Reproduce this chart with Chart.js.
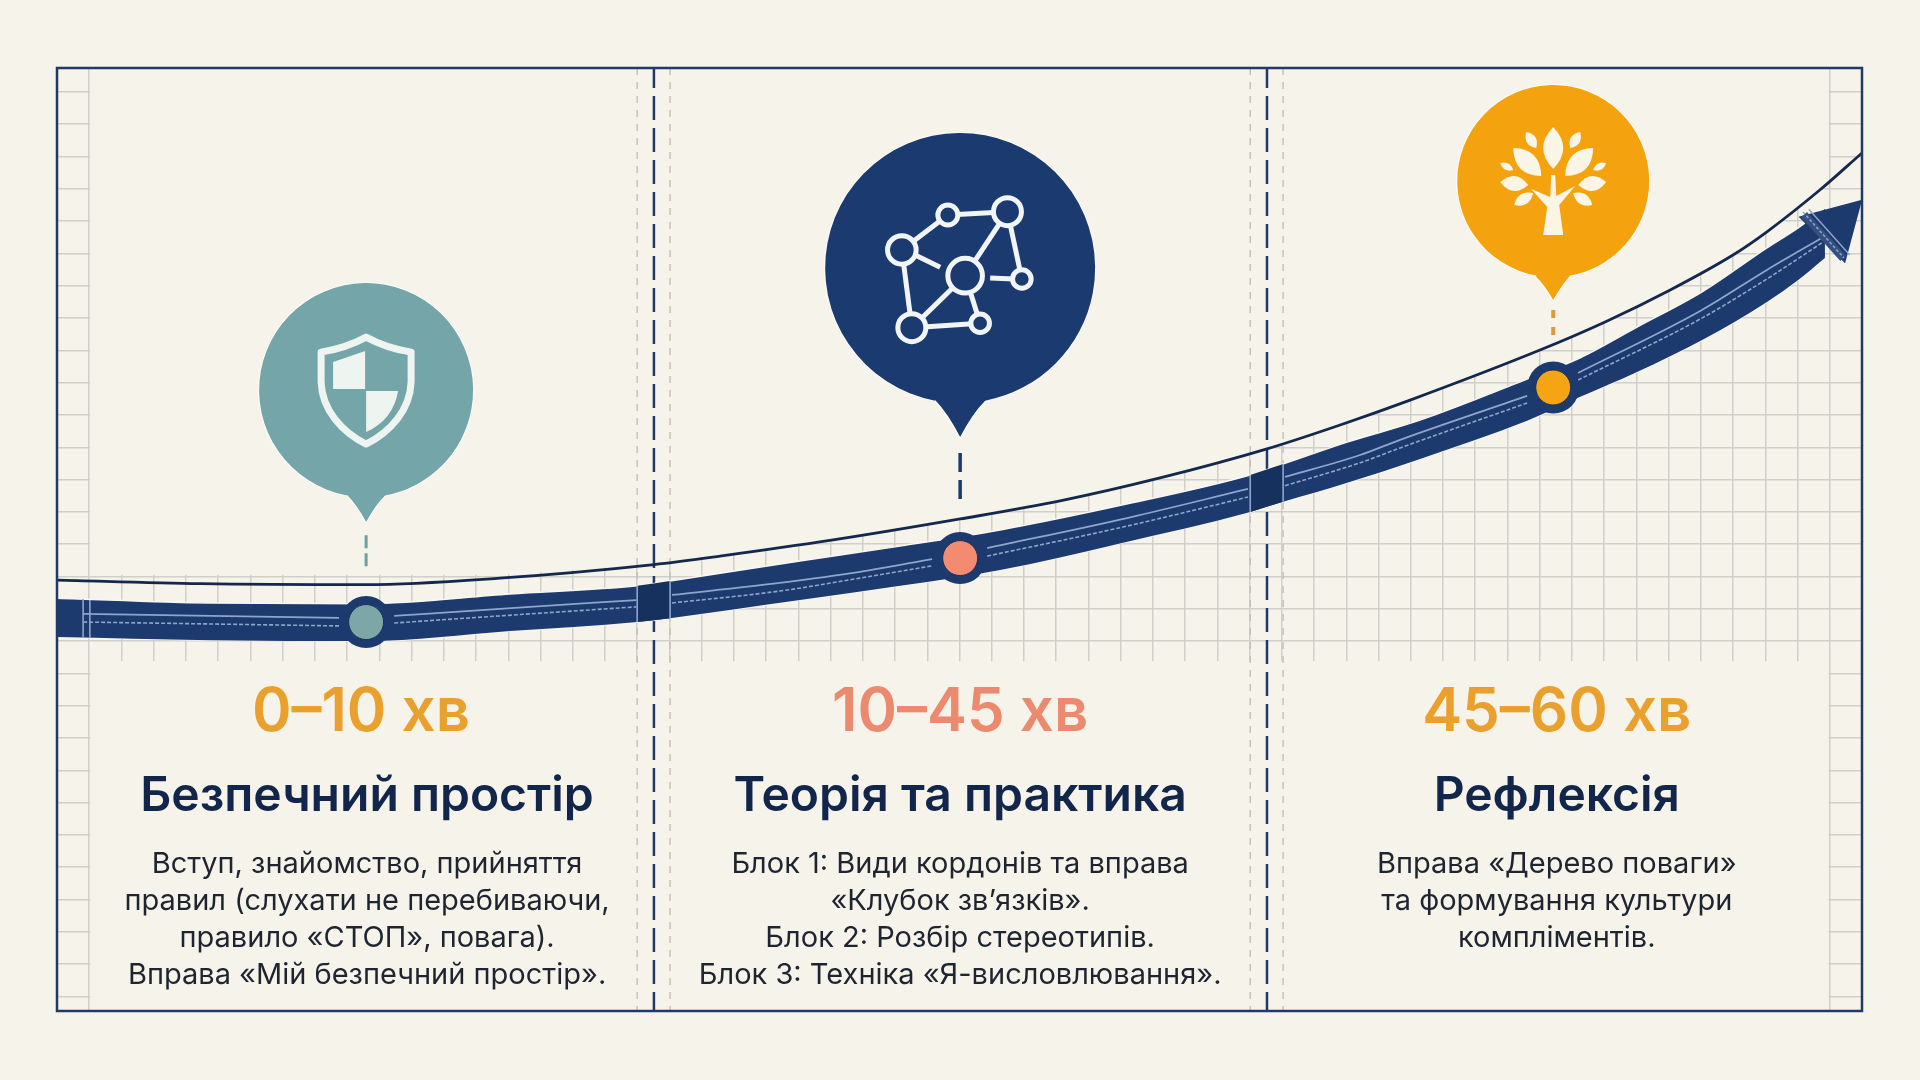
<!DOCTYPE html>
<html lang="uk">
<head>
<meta charset="utf-8">
<title>Таймлайн заняття</title>
<script src="https://cdn.jsdelivr.net/npm/chart.js"></script>
<style>
    html, body { margin: 0; padding: 0; background: #f6f3ea; }
    canvas { display: block; }
</style>
</head>
<body>
<canvas id="timeline" width="1920" height="1080"></canvas>
<script>
// Одиниці обох осей - клітинки міліметрівки
const phaseRanges = ['0–10 хв', '10–45 хв', '45–60 хв'];
const phaseTitles = ['Безпечний простір', 'Теорія та практика', 'Рефлексія'];
const phaseBodies = [
    ['Вступ, знайомство, прийняття', 'правил (слухати не перебиваючи,', 'правило «СТОП», повага).', 'Вправа «Мій безпечний простір».'],
    ['Блок 1: Види кордонів та вправа', '«Клубок зв’язків».', 'Блок 2: Розбір стереотипів.', 'Блок 3: Техніка «Я-висловлювання».'],
    ['Вправа «Дерево поваги»', 'та формування культури', 'компліментів.']
];
const rangeCenters = [8.43, 27.02, 45.53];
const textCenters = [8.62, 27.02, 45.53];

const bandX = [-1, 3.75, 8.59, 13.06, 17.0, 18.02, 22.05, 25.16, 28.26, 32.04, 36.02, 37.04, 39.03, 41.29, 44.61, 46.26, 48.02, 50.04, 52.05, 53.02, 53.85];
const bandTop = [12.33, 12.18, 12.16, 12.46, 12.71, 12.86, 13.48, 13.94, 14.44, 15.21, 16.14, 16.48, 17.16, 17.84, 19.11, 19.77, 20.72, 21.81, 23.17, 23.79, 24.41];
const bandBottom = [11.13, 11.03, 11.0, 11.31, 11.59, 11.71, 12.27, 12.71, 13.2, 14.04, 15.0, 15.31, 15.9, 16.64, 17.82, 18.56, 19.33, 20.32, 21.5, 22.18, 22.86];

const thinX = [-1, 3.44, 8.59, 12.74, 17.52, 19.57, 23.08, 27.02, 30.12, 33.22, 36.54, 38.81, 40.98, 45.01, 47.03, 49.05, 51.01, 52.05, 53.7, 55];
const thinY = [12.89, 12.78, 12.75, 12.95, 13.37, 13.63, 14.13, 14.78, 15.34, 16.05, 16.95, 17.69, 18.46, 20.01, 20.88, 21.87, 22.96, 23.67, 24.97, 26.11];

// null - розрив строчки біля маркерів і швів
const stitchX = [-0.19, 7.75, 8.59, 9.46, 12.74, 16.97, 17.5, 18.08, 21.43, 23.91, 26.15, 27.02, 27.86, 32.2, 35.95, 36.5, 37.1, 39.43, 40.67, 44.61, 45.42, 46.19, 49.98, 52.05, 53.79];
const stitchSolid = [11.84, 11.72, null, 11.78, 12.0, 12.27, null, 12.43, 12.8, 13.14, 13.54, null, 13.88, 14.81, 15.71, null, 16.08, 16.76, 17.23, 18.59, null, 19.3, 21.22, 22.49, 23.5];
const stitchDashed = [11.59, 11.47, null, 11.56, 11.78, 12.06, null, 12.18, 12.55, 12.95, 13.33, null, 13.63, 14.56, 15.46, null, 15.81, 16.52, 16.98, 18.37, null, 19.08, 20.97, 22.21, 23.35];

const seamX = [[17.0, 18.02], [36.02, 37.04]];
const seamTop = [[12.71, 12.86], [16.14, 16.48]];
const seamBottom = [[11.59, 11.71], [15.0, 15.31]];
const seamEdgeX = [-0.19, 0.02, 17.0, 18.02, 36.02, 37.04];
const seamEdgeTop = [12.3, 12.27, 12.71, 12.86, 16.14, 16.48];
const seamEdgeBottom = [11.11, 11.1, 11.59, 11.71, 15.0, 15.31];

const dividerX = [17.52, 36.54];
const guideX = [17.0, 18.02, 36.02, 37.04];

const markerX = [8.59, 27.02, 45.42];
const markerY = [11.59, 13.57, 18.85];
const stemTop = [14.28, 16.82, 21.25];
const stemBottom = [13.26, 15.4, 20.47];

const pinY = [18.77, 22.55, 25.24];
const pinTipY = [14.69, 17.32, 21.56];

const arrowX = [54.17];
const arrowY = [23.83];
const arrowStripX = [53.2, 54.42];
const arrowStripY = [24.2, 22.85];
const arrowStitchX = [[53.35, 54.62], [53.17, 54.44]];
const arrowStitchY = [[24.37, 22.95], [24.28, 22.86]];

const colors = {
    paper: '#f6f3ea',
    grid: '#d0d0cb',
    navy: '#1d3a6e',
    seam: '#17315f',
    strip: '#34507f',
    thin: '#14284d',
    stitch: '#8ea5cc',
    frame: '#20396a',
    title: '#12254a',
    body: '#1e2530',
    pins: ['#74a5a8', '#1b3a70', '#f4a30e'],
    dots: ['#7ca7a6', '#f28b70', '#f5a413'],
    stems: ['#6f9f9f', '#1b3a70', '#dc9a3a'],
    ranges: ['#e9a02c', '#ec8a6f', '#e9a02c'],
    icon: ['#eef4ef', '#f2f5f7', '#fbf5e6']
};

const pts = (xs, ys) => xs.map((x, i) => ({ x: x, y: ys[i] }));

function vLine(x, y1, y2, color, width, dash, order, dashOffset) {
    return {
        data: [{ x: x, y: y1 }, { x: x, y: y2 }],
        borderColor: color, borderWidth: width, borderDash: dash || [],
        borderDashOffset: dashOffset || 0,
        pointRadius: 0, fill: false, tension: 0, order: order
    };
}

function curve(xs, ys, color, width, dash, order) {
    return {
        data: pts(xs, ys),
        borderColor: color, borderWidth: width, borderDash: dash || [],
        pointRadius: 0, fill: false, cubicInterpolationMode: 'monotone',
        spanGaps: false, order: order
    };
}

const datasets = [];

// Лінія-орієнтир над стрічкою (індекс потрібен плагіну маски)
datasets.push(curve(thinX, thinY, colors.thin, 2.8, [], 30));
const THIN_INDEX = 0;

dividerX.forEach(x => datasets.push(vLine(x, 28.74, -0.45, colors.frame, 2.5, [24, 8], 50, 4)));
guideX.forEach(x => datasets.push(vLine(x, 28.74, -0.45, '#c3c3bd', 1.5, [7, 7], 51)));

// Стрічка: заливка між верхнім і нижнім краєм
datasets.push(Object.assign(curve(bandX, bandTop, '#f9f7f1', 1.5, [], 40), { fill: '+1', backgroundColor: colors.navy }));
datasets.push(curve(bandX, bandBottom, '#f9f7f1', 1.5, [], 40));

seamX.forEach((xs, i) => {
    datasets.push(Object.assign(curve(xs, seamTop[i], colors.seam, 0, [], 38), { fill: '+1', backgroundColor: colors.seam }));
    datasets.push(curve(xs, seamBottom[i], colors.seam, 0, [], 38));
});
seamEdgeX.forEach((x, i) => datasets.push(vLine(x, seamEdgeTop[i], seamEdgeBottom[i], colors.stitch, 1.6, [], 36)));

datasets.push(curve(stitchX, stitchSolid, colors.stitch, 1.8, [], 35));
datasets.push(curve(stitchX, stitchDashed, colors.stitch, 1.6, [4, 2], 35));

// Наконечник стрілки
datasets.push({
    data: pts(arrowX, arrowY), showLine: false,
    pointStyle: 'triangle', pointRadius: 38, pointRotation: 45,
    pointBackgroundColor: colors.navy, pointBorderColor: colors.navy, pointBorderWidth: 0,
    order: 34
});
datasets.push({
    data: pts(arrowStripX, arrowStripY), borderColor: colors.strip,
    borderWidth: 8, pointRadius: 0, tension: 0, order: 33.5
});
arrowStitchX.forEach((xs, i) => {
    datasets.push({
        data: pts(xs, arrowStitchY[i]), borderColor: colors.stitch,
        borderWidth: 1.5, borderDash: i ? [3, 2] : [], pointRadius: 0, tension: 0, order: 33
    });
});

// Штрихи від бульбашок до маркерів
const stemDash = [[13, 5], [19, 8], [8, 9]];
const stemWidth = [3, 3.5, 4];
markerX.forEach((x, i) => datasets.push(vLine(x, stemTop[i], stemBottom[i], colors.stems[i], stemWidth[i], stemDash[i], 25)));

// Маркери на стрічці
datasets.push({
    data: pts(markerX, markerY), showLine: false, pointRadius: 26,
    pointBackgroundColor: colors.navy, pointBorderWidth: 0, order: 20
});
datasets.push({
    data: pts(markerX, markerY), showLine: false, pointRadius: 17.5,
    pointBackgroundColor: colors.dots, pointBorderColor: '#1a2f58', pointBorderWidth: 1, order: 10
});

// Міліметрівка лишається тільки під кривою та на бічних смугах
const gridMaskPlugin = {
    id: 'gridMask',
    beforeDatasetsDraw(chart) {
        const { ctx, chartArea, scales: { x, y } } = chart;
        const left = x.getPixelForValue(0) + 1;
        const right = x.getPixelForValue(54) - 1;
        const cap = y.getPixelForValue(13.05);
        const pointsOnThin = chart.getDatasetMeta(THIN_INDEX).data;
        ctx.save();
        ctx.beginPath();
        ctx.rect(left, chartArea.top, right - left, chartArea.bottom - chartArea.top);
        ctx.clip();
        ctx.fillStyle = colors.paper;
        ctx.beginPath();
        ctx.moveTo(chartArea.left, chartArea.top);
        pointsOnThin.forEach(p => ctx.lineTo(p.x, Math.min(p.y, cap)));
        ctx.lineTo(chartArea.right, chartArea.top);
        ctx.closePath();
        ctx.fill();
        const floor = y.getPixelForValue(10.38);
        ctx.fillRect(left, floor, right - left, chartArea.bottom - floor);
        ctx.restore();
    }
};

function drawLeaf(ctx, x1, y1, x2, y2, w) {
    const mx = (x1 + x2) / 2, my = (y1 + y2) / 2;
    const dx = x2 - x1, dy = y2 - y1, len = Math.hypot(dx, dy);
    const nx = -dy / len * w, ny = dx / len * w;
    ctx.beginPath();
    ctx.moveTo(x1, y1);
    ctx.quadraticCurveTo(mx + nx, my + ny, x2, y2);
    ctx.quadraticCurveTo(mx - nx, my - ny, x1, y1);
    ctx.fill();
}

function drawShield(ctx) {
    ctx.strokeStyle = ctx.fillStyle = colors.icon[0];
    ctx.lineWidth = 7;
    ctx.lineJoin = 'round';
    ctx.beginPath();
    ctx.moveTo(0, -53);
    ctx.quadraticCurveTo(-20, -42, -45, -38);
    ctx.lineTo(-45, -8);
    ctx.bezierCurveTo(-44, 20, -24, 42, 0, 54);
    ctx.bezierCurveTo(24, 42, 44, 20, 45, -8);
    ctx.lineTo(45, -38);
    ctx.quadraticCurveTo(20, -42, 0, -53);
    ctx.closePath();
    ctx.stroke();
    ctx.beginPath();
    ctx.moveTo(-33, -28);
    ctx.lineTo(-1, -39);
    ctx.lineTo(-1, -1);
    ctx.lineTo(-33, -1);
    ctx.closePath();
    ctx.fill();
    ctx.beginPath();
    ctx.moveTo(0, 1);
    ctx.lineTo(32, 1);
    ctx.quadraticCurveTo(27, 30, 0, 42);
    ctx.closePath();
    ctx.fill();
}

function drawNetwork(ctx) {
    const nodes = [[-58.3, -18, 14.3], [-12.3, -53, 10], [47.3, -56.3, 14], [5, 7.7, 17.3], [61.7, 11, 9.3], [-48.3, 59.7, 14], [20, 55.3, 9.3]];
    const links = [[0, 1], [1, 2], [2, 3], [2, 4], [0, 5], [3, 5], [5, 6], [3, 6]];
    ctx.strokeStyle = colors.icon[1];
    ctx.lineWidth = 5;
    links.forEach(([a, b]) => {
        ctx.beginPath();
        ctx.moveTo(nodes[a][0], nodes[a][1]);
        ctx.lineTo(nodes[b][0], nodes[b][1]);
        ctx.stroke();
    });
    [[-45, -13, -20, -0.7], [30, 10, 54, 11]].forEach(s => {
        ctx.beginPath();
        ctx.moveTo(s[0], s[1]);
        ctx.lineTo(s[2], s[3]);
        ctx.stroke();
    });
    nodes.forEach(n => {
        ctx.beginPath();
        ctx.arc(n[0], n[1], n[2], 0, Math.PI * 2);
        ctx.fillStyle = colors.pins[1];
        ctx.fill();
        ctx.stroke();
    });
}

function drawTree(ctx) {
    ctx.fillStyle = ctx.strokeStyle = colors.icon[2];
    const leaves = [
        [0, -12, 0, -54, 20], [-12, -5, -40, -33, 19], [12, -5, 40, -33, 19],
        [-17, -33, -27, -49, 10], [17, -33, 27, -49, 10], [-25, 4, -53, 1, 15], [25, 4, 53, 1, 15],
        [-40, -11, -53, -18, 7], [40, -11, 53, -18, 7], [-20, 12, -39, 24, 11], [20, 12, 39, 24, 11]
    ];
    leaves.forEach(l => drawLeaf(ctx, l[0], l[1], l[2], l[3], l[4]));
    ctx.beginPath();
    ctx.moveTo(-10, 54);
    ctx.lineTo(10, 54);
    ctx.lineTo(6, 24);
    ctx.lineTo(22, 5);
    ctx.lineTo(3, 15);
    ctx.lineTo(2, -6);
    ctx.lineTo(-2, -6);
    ctx.lineTo(-3, 16);
    ctx.lineTo(-22, 8);
    ctx.lineTo(-6, 26);
    ctx.closePath();
    ctx.fill();
}

const pinRadius = [107, 135, 96];
const pinNeck = [[19, 105], [25, 132], [17, 96]];
const pinIcons = [drawShield, drawNetwork, drawTree];

const pinsPlugin = {
    id: 'pins',
    afterDatasetsDraw(chart) {
        const { ctx, scales: { x, y } } = chart;
        markerX.forEach((mx, i) => {
            const cx = x.getPixelForValue(mx);
            const cy = y.getPixelForValue(pinY[i]);
            const tip = y.getPixelForValue(pinTipY[i]) - cy;
            const r = pinRadius[i];
            const [half, neck] = pinNeck[i];
            ctx.save();
            ctx.translate(cx, cy);
            ctx.fillStyle = colors.pins[i];
            ctx.strokeStyle = 'rgba(255,255,255,0.75)';
            ctx.lineWidth = 2;
            ctx.beginPath();
            ctx.arc(0, 0, r, Math.PI / 2 + Math.asin(half / r), Math.PI / 2 - Math.asin(half / r) + Math.PI * 2);
            ctx.quadraticCurveTo(half * 0.5, neck + (tip - neck) * 0.35, 0, tip);
            ctx.quadraticCurveTo(-half * 0.5, neck + (tip - neck) * 0.35, -half, neck);
            ctx.closePath();
            ctx.stroke();
            ctx.fill();
            pinIcons[i](ctx);
            ctx.restore();
        });
    }
};

const captionsPlugin = {
    id: 'captions',
    afterDraw(chart) {
        const { ctx, chartArea, scales: { x } } = chart;
        ctx.save();
        ctx.strokeStyle = colors.frame;
        ctx.lineWidth = 2.5;
        ctx.strokeRect(chartArea.left, chartArea.top, chartArea.right - chartArea.left, chartArea.bottom - chartArea.top);
        ctx.textAlign = 'center';
        ctx.textBaseline = 'alphabetic';
        phaseRanges.forEach((label, i) => {
            ctx.fillStyle = colors.ranges[i];
            ctx.font = '600 60px Inter';
            ctx.fillText(label, x.getPixelForValue(rangeCenters[i]), 731);
        });
        phaseTitles.forEach((label, i) => {
            ctx.fillStyle = colors.title;
            ctx.font = '600 48px Inter';
            ctx.fillText(label, x.getPixelForValue(textCenters[i]), 811);
        });
        const lineY = [873, 910, 947, 984];
        phaseBodies.forEach((lines, i) => {
            ctx.fillStyle = colors.body;
            ctx.font = '400 29px Inter';
            lines.forEach((line, j) => ctx.fillText(line, x.getPixelForValue(textCenters[i]), lineY[j]));
        });
        ctx.restore();
    }
};

new Chart(document.getElementById('timeline'), {
    type: 'line',
    data: { datasets: datasets },
    plugins: [gridMaskPlugin, pinsPlugin, captionsPlugin],
    options: {
        responsive: false,
        animation: false,
        devicePixelRatio: 1,
        layout: { padding: { left: 57, right: 58, top: 68, bottom: 69 } },
        plugins: { legend: { display: false }, tooltip: { enabled: false } },
        scales: {
            x: {
                type: 'linear', min: -1, max: 55,
                ticks: { display: false, stepSize: 1 },
                grid: { color: colors.grid, lineWidth: 1.5, drawTicks: false },
                border: { display: false }
            },
            y: {
                type: 'linear', min: -0.45, max: 28.74,
                ticks: { display: false, stepSize: 1, includeBounds: false },
                grid: { color: colors.grid, lineWidth: 1.5, drawTicks: false },
                border: { display: false }
            }
        }
    }
});
</script>
</body>
</html>
